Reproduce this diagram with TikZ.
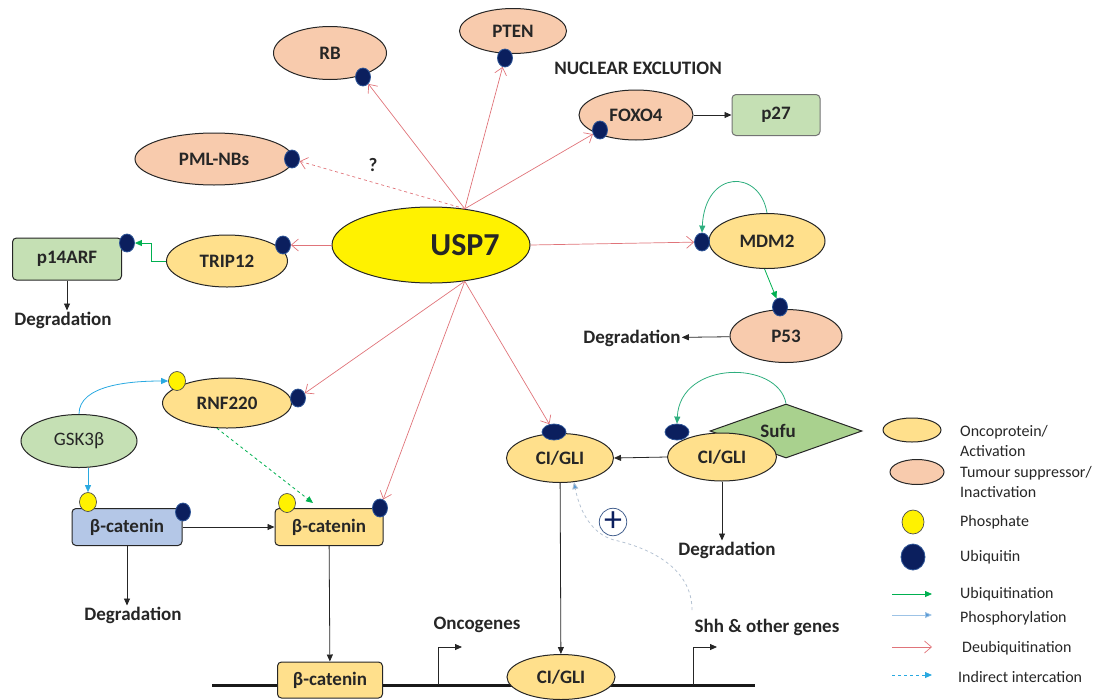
\documentclass[tikz,border=0pt]{standalone}
\usepackage{fontspec}
\setmainfont{Carlito}
\usetikzlibrary{arrows.meta,shapes.geometric}

\definecolor{oncoY}{HTML}{FFE08C}
\definecolor{suppO}{HTML}{F8CBAD}
\definecolor{boxG}{HTML}{C5E0B4}
\definecolor{sufuG}{HTML}{A9D18E}
\definecolor{catB}{HTML}{B4C7E7}
\definecolor{ubN}{HTML}{0B1F5E}
\definecolor{ubE}{HTML}{2E5597}
\definecolor{deubR}{HTML}{E0747A}
\definecolor{ubG}{HTML}{00B050}
\definecolor{loopG}{HTML}{2EAE7E}
\definecolor{phB}{HTML}{29A9E1}
\definecolor{phL}{HTML}{9DC3E6}
\definecolor{inB}{HTML}{B4C2D2}
\definecolor{inT}{HTML}{5B9BD5}

\tikzset{
  sz/.style 2 args={minimum width=#1pt, minimum height=#2pt},
  prot/.style={ellipse, draw=black!85, line width=1pt, inner sep=0pt, text=black!85,
    font=\bfseries\fontsize{19}{21}\selectfont},
  onco/.style={prot, fill=oncoY},
  supp/.style={prot, fill=suppO},
  pbox/.style={prot, rectangle, rounded corners=4pt},
  ubq/.style={ellipse, fill=ubN, draw=ubE, line width=0.8pt, sz={15}{18}, inner sep=0pt},
  pho/.style={ellipse, fill=yellow, draw=black!70, line width=0.7pt, sz={17}{19}, inner sep=0pt},
  lbl/.style={text=black!85, font=\bfseries\fontsize{19}{21}\selectfont, inner sep=1pt},
  leg/.style={text=black!85, font=\fontsize{16}{20}\selectfont, anchor=west, align=left, inner sep=0pt},
  deub/.style={draw=deubR, line width=0.7pt, -{Straight Barb[length=7pt,width=12pt]}},
  ubarr/.style={draw=ubG, line width=0.8pt, -{Triangle[length=7pt,width=6pt]}},
  pharr/.style={draw=phB, line width=0.8pt, -{Triangle[length=7pt,width=6pt]}},
  blk/.style={draw=black!85, line width=0.8pt, -{Triangle[length=7pt,width=6pt]}},
}

\begin{document}
\begin{tikzpicture}[x=1pt,y=-1pt]
  \useasboundingbox (0,0) rectangle (1099,699);
  % DNA
  \coordinate (dnaL) at (212,685);
  \coordinate (dnaR) at (755,685);
  \draw[line width=3pt, black!90] (dnaL) -- (dnaR);

  \node[prot, fill=yellow, sz={198}{76}, font=\bfseries\fontsize{32}{36}\selectfont] (usp7) at (431,245) {\hspace*{68pt}USP7};

  % upper targets
  \node[supp, sz={113}{53}] (rb) at (330,53) {RB};
  \node[supp, sz={107}{45}] (pten) at (513,31) {PTEN};
  \node[supp, sz={114}{50}] (foxo) at (636,115) {FOXO4};
  \node[supp, sz={158}{52}] (pml) at (214,159) {PML-NBs};
  \node[pbox, fill=boxG, draw=black!55, sz={88}{41}] (p27) at (776,115) {p27};
  \node[ubq] (rbU) at (363,77) {};
  \node[ubq] (ptenU) at (505,58) {};
  \node[ubq] (foxoU) at (600,130) {};
  \node[ubq] (pmlU) at (292,159) {};
  \node[lbl] (nucl) at (638,68) {NUCLEAR EXCLUTION};
  \node[lbl] (qm) at (373,165) {?};

  % MDM2 / P53
  \node[onco, sz={116}{55}] (mdm) at (767,241) {MDM2};
  \node[supp, sz={112}{53}] (p53) at (786,336) {P53};
  \node[ubq] (mdmU) at (702,242) {};
  \node[ubq] (p53U) at (780,307) {};
  \node[lbl] (degP53) at (632,338) {Degradation};

  % TRIP12 / p14ARF
  \node[onco, sz={121}{52}] (trip) at (227,261) {TRIP12};
  \node[pbox, fill=boxG, sz={109}{42}] (p14) at (67,259) {p14ARF};
  \node[ubq] (tripU) at (283,245) {};
  \node[ubq] (p14U) at (127,243) {};
  \node[lbl] (degP14) at (63,320) {Degradation};

  % Wnt branch
  \node[onco, sz={129}{50}] (rnf) at (227,403) {RNF220};
  \node[prot, fill=boxG, sz={116}{53}, font=\fontsize{19}{21}\selectfont] (gsk) at (79,441) {GSK3β};
  \node[pbox, fill=catB, sz={110}{37}] (bcatA) at (127,527) {β-catenin};
  \node[pbox, fill=oncoY, sz={108}{37}] (bcatB) at (329,527) {β-catenin};
  \node[pbox, fill=oncoY, sz={105}{36}] (bcatC) at (330,680) {β-catenin};
  \node[pho] (rnfP) at (177,381) {};
  \node[ubq] (rnfU) at (298,398) {};
  \node[pho] (bcatAP) at (88,502) {};
  \node[ubq] (bcatAU) at (183,512) {};
  \node[pho] (bcatBP) at (287,503) {};
  \node[ubq] (bcatBU) at (380,508) {};
  \node[lbl] (degCat) at (133,615) {Degradation};
  \coordinate (bcatBin) at (313,503);

  % Hedgehog branch
  \node[onco, sz={107}{49}] (gliA) at (560,458) {CI/GLI};
  \node[diamond, draw=black!85, line width=1pt, fill=sufuG, inner sep=0pt, sz={152}{54}, text=black!85,
    font=\bfseries\fontsize{19}{21}\selectfont] (sufu) at (786,431) {\hspace*{-16pt}Sufu};
  \node[onco, sz={109}{48}] (gliB) at (722,457) {CI/GLI};
  \node[onco, sz={108}{45}] (gliC) at (561,677) {CI/GLI};
  \node[ubq, sz={24}{16}] (gliAU) at (554,432) {};
  \node[ubq, sz={24}{16}] (gliBU) at (677,432) {};
  \node[lbl] (degGli) at (727,550) {Degradation};
  \node[circle, draw=ubE!70!gray, line width=0.8pt, inner sep=0pt, minimum size=24pt, text=ubN,
    font=\fontsize{36}{36}\selectfont] (plus) at (613,522) {\raisebox{1pt}{+}};
  \coordinate (shhUp) at (692,610);

  % promoters
  \coordinate (promA) at (438,685);
  \coordinate (promB) at (693,685);
  \draw[blk] (promA) -- ++(0,-38) -- ++(24,0);
  \draw[blk] (promB) -- ++(0,-38) -- ++(24,0);
  \node[lbl] (onc) at (477,625) {Oncogenes};
  \node[lbl] (shh) at (767,627) {Shh \& other genes};

  % deubiquitination by USP7
  \draw[deub] (usp7.47) -- (rbU);
  \draw[deub] (usp7.47) -- (ptenU);
  \draw[deub] (usp7.47) -- (foxoU);
  \draw[deub, dashed] (usp7.47) -- (pmlU);
  \draw[deub] (usp7.east) -- (mdmU);
  \draw[deub] (usp7.west) -- (tripU);
  \draw[deub] (usp7.-47) -- (rnfU);
  \draw[deub] (usp7.-47) -- (bcatBU);
  \draw[deub] (usp7.-47) -- (gliAU);

  % ubiquitination
  \draw[ubarr, draw=loopG] (mdm.north) .. controls (760,169) and (705,169) .. (mdmU.north);
  \draw[ubarr] (mdm.-95) -- (p53U);
  \draw[ubarr] (trip.west) -- ++(-15,0) |- (p14U);
  \draw[ubarr, draw=loopG] (sufu.north) .. controls (778,360) and (680,360) .. (gliBU.north);
  \draw[ubarr, dashed] (rnf.-112) -- (bcatBin);

  % phosphorylation
  \draw[pharr] (gsk.north) .. controls (79,385) and (130,381) .. (rnfP.west);
  \draw[pharr] (gsk.south -| bcatAP) -- (bcatAP.north);

  % other links
  \draw[blk] (foxo) -- (p27);
  \draw[blk] (p53) -- (degP53);
  \draw[blk] (p14.south) -- (p14.south |- degP14.north);
  \draw[blk] (bcatA.south) -- (bcatA.south |- degCat.north);
  \draw[blk] (bcatA) -- (bcatB);
  \draw[blk] (bcatB) -- (bcatC);
  \draw[blk] (gliB.west) -- (gliA.east);
  \draw[blk] (gliB.south) -- (gliB.south |- degGli.north);
  \draw[blk] (gliA) -- (gliC);
  \draw[draw=inB, line width=0.8pt, dashed, -{Triangle[length=7pt,width=6pt,fill=inT]}]
    (shhUp) .. controls (692,568) and (650,548) .. (614,540)
    .. controls (592,534) and (580,512) .. (gliA.-60);

  % legend
  \node[onco, sz={58}{24}] (legOnc) at (912,430) {};
  \node[supp, sz={54}{25}] (legSup) at (917,472) {};
  \node[pho, sz={22}{24}] (legPho) at (913,522) {};
  \node[ubq, sz={24}{26}] (legUb) at (913,557) {};
  \node[leg] (tOnc) at (960,441) {Oncoprotein/\\Activation};
  \node[leg] (tSup) at (960,482) {Tumour suppressor/\\Inactivation};
  \node[leg] (tPho) at (960,522) {Phosphate};
  \node[leg] (tUb) at (960,557) {Ubiquitin};
  \node[leg] (tUbn) at (960,594) {Ubiquitination};
  \node[leg] (tPhn) at (960,618) {Phosphorylation};
  \node[leg] (tDeu) at (962,648) {Deubiquitination};
  \node[leg] (tInd) at (958,677) {Indirect intercation};
  \coordinate (lA) at (892,594); \coordinate (lAe) at (932,594);
  \coordinate (lB) at (892,615); \coordinate (lBe) at (932,615);
  \coordinate (lC) at (892,647); \coordinate (lCe) at (932,647);
  \coordinate (lD) at (892,675); \coordinate (lDe) at (932,675);
  \draw[ubarr] (lA) -- (lAe);
  \draw[draw=phL, line width=0.8pt, -{Triangle[length=7pt,width=6pt,fill=inT]}] (lB) -- (lBe);
  \draw[deub] (lC) -- (lCe);
  \draw[draw=phB, line width=0.8pt, dashed, -{Triangle[length=7pt,width=6pt]}] (lD) -- (lDe);
\end{tikzpicture}
\end{document}
